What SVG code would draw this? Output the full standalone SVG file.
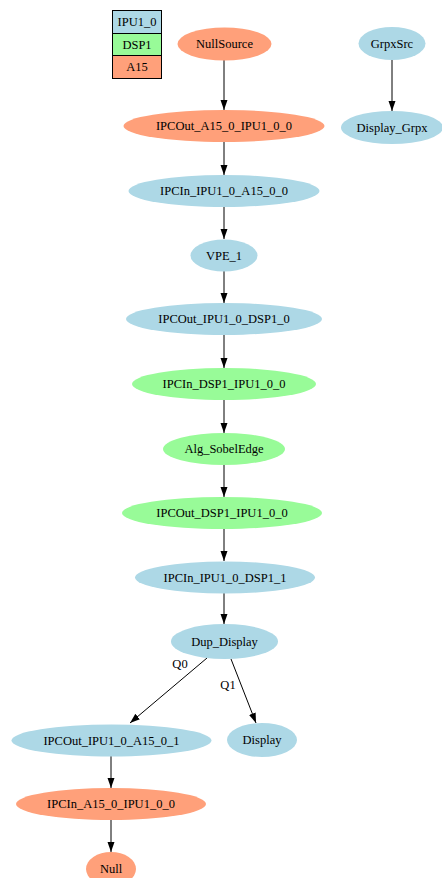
<svg xmlns="http://www.w3.org/2000/svg" width="442" height="878" viewBox="0 0 442 878">
<defs>
<style>
.n ellipse{stroke:none}
.b{fill:#add8e6}
.g{fill:#98fb98}
.s{fill:#ffa07a}
text{font-family:"Liberation Serif","Times New Roman",serif;font-size:12.5px;fill:#000;text-anchor:middle;dominant-baseline:central}
.e line{stroke:#000;stroke-width:1}
.lg rect{stroke:#000;stroke-width:1}
</style>
<marker id="ah" markerUnits="userSpaceOnUse" markerWidth="10" markerHeight="8" refX="10" refY="3.5" orient="auto">
<path d="M0,0 L10,3.5 L0,7 z" fill="#000"/>
</marker>
</defs>
<rect width="442" height="878" fill="#fff"/>
<g id="legend" class="lg">
<rect x="112.5" y="10.5" width="49" height="23" class="b"/>
<rect x="112.5" y="33.5" width="49" height="22" class="g"/>
<rect x="112.5" y="55.5" width="49" height="23" class="s"/>
<text x="137" y="22">IPU1_0</text>
<text x="137" y="45">DSP1</text>
<text x="137" y="67">A15</text>
</g>
<g id="edges" class="e">
<line x1="224" y1="60" x2="224" y2="110" marker-end="url(#ah)"/>
<line x1="392" y1="60" x2="392" y2="111" marker-end="url(#ah)"/>
<line x1="224" y1="142" x2="224" y2="175" marker-end="url(#ah)"/>
<line x1="224" y1="207" x2="224" y2="239" marker-end="url(#ah)"/>
<line x1="224" y1="271" x2="224" y2="303" marker-end="url(#ah)"/>
<line x1="224" y1="335" x2="224" y2="368" marker-end="url(#ah)"/>
<line x1="224" y1="400" x2="224" y2="433" marker-end="url(#ah)"/>
<line x1="224" y1="465" x2="224" y2="497" marker-end="url(#ah)"/>
<line x1="224" y1="529" x2="224" y2="561" marker-end="url(#ah)"/>
<line x1="224" y1="593" x2="224" y2="624" marker-end="url(#ah)"/>
<line x1="207" y1="658" x2="130" y2="723" marker-end="url(#ah)"/>
<line x1="231" y1="659" x2="256" y2="723" marker-end="url(#ah)"/>
<line x1="111" y1="756" x2="111" y2="788" marker-end="url(#ah)"/>
<line x1="111" y1="820" x2="111" y2="852" marker-end="url(#ah)"/>
<text x="180" y="664">Q0</text>
<text x="228" y="685">Q1</text>
</g>
<g id="NullSource" class="n"><ellipse cx="224.5" cy="44" rx="47" ry="16.5" class="s"/><text x="224.5" y="44">NullSource</text></g>
<g id="GrpxSrc" class="n"><ellipse cx="392" cy="43.5" rx="33.5" ry="16.5" class="b"/><text x="392" y="43.5">GrpxSrc</text></g>
<g id="Display_Grpx" class="n"><ellipse cx="392" cy="127.5" rx="51" ry="16.5" class="b"/><text x="392" y="127.5">Display_Grpx</text></g>
<g id="IPCOut_A15_0_IPU1_0_0" class="n"><ellipse cx="224" cy="126" rx="100.5" ry="16" class="s"/><text x="224" y="126">IPCOut_A15_0_IPU1_0_0</text></g>
<g id="IPCIn_IPU1_0_A15_0_0" class="n"><ellipse cx="224" cy="191" rx="95.5" ry="16" class="b"/><text x="224" y="191">IPCIn_IPU1_0_A15_0_0</text></g>
<g id="VPE_1" class="n"><ellipse cx="224" cy="255.5" rx="33.5" ry="16" class="b"/><text x="224" y="255.5">VPE_1</text></g>
<g id="IPCOut_IPU1_0_DSP1_0" class="n"><ellipse cx="224" cy="319" rx="98" ry="16" class="b"/><text x="224" y="319">IPCOut_IPU1_0_DSP1_0</text></g>
<g id="IPCIn_DSP1_IPU1_0_0" class="n"><ellipse cx="224" cy="384" rx="92" ry="16" class="g"/><text x="224" y="384">IPCIn_DSP1_IPU1_0_0</text></g>
<g id="Alg_SobelEdge" class="n"><ellipse cx="224" cy="449" rx="61" ry="16" class="g"/><text x="224" y="449">Alg_SobelEdge</text></g>
<g id="IPCOut_DSP1_IPU1_0_0" class="n"><ellipse cx="222" cy="513" rx="100" ry="16" class="g"/><text x="222" y="513">IPCOut_DSP1_IPU1_0_0</text></g>
<g id="IPCIn_IPU1_0_DSP1_1" class="n"><ellipse cx="225" cy="577.5" rx="90" ry="16" class="b"/><text x="225" y="577.5">IPCIn_IPU1_0_DSP1_1</text></g>
<g id="Dup_Display" class="n"><ellipse cx="224.5" cy="641.5" rx="53.5" ry="17.5" class="b"/><text x="224.5" y="641.5">Dup_Display</text></g>
<g id="Display" class="n"><ellipse cx="262" cy="740" rx="35" ry="17" class="b"/><text x="262" y="740">Display</text></g>
<g id="IPCOut_IPU1_0_A15_0_1" class="n"><ellipse cx="111.5" cy="740.5" rx="100" ry="16" class="b"/><text x="111.5" y="740.5">IPCOut_IPU1_0_A15_0_1</text></g>
<g id="IPCIn_A15_0_IPU1_0_0" class="n"><ellipse cx="111" cy="804" rx="95" ry="16" class="s"/><text x="111" y="804">IPCIn_A15_0_IPU1_0_0</text></g>
<g id="Null" class="n"><ellipse cx="111" cy="869" rx="25" ry="17" class="s"/><text x="111" y="869">Null</text></g>
</svg>
